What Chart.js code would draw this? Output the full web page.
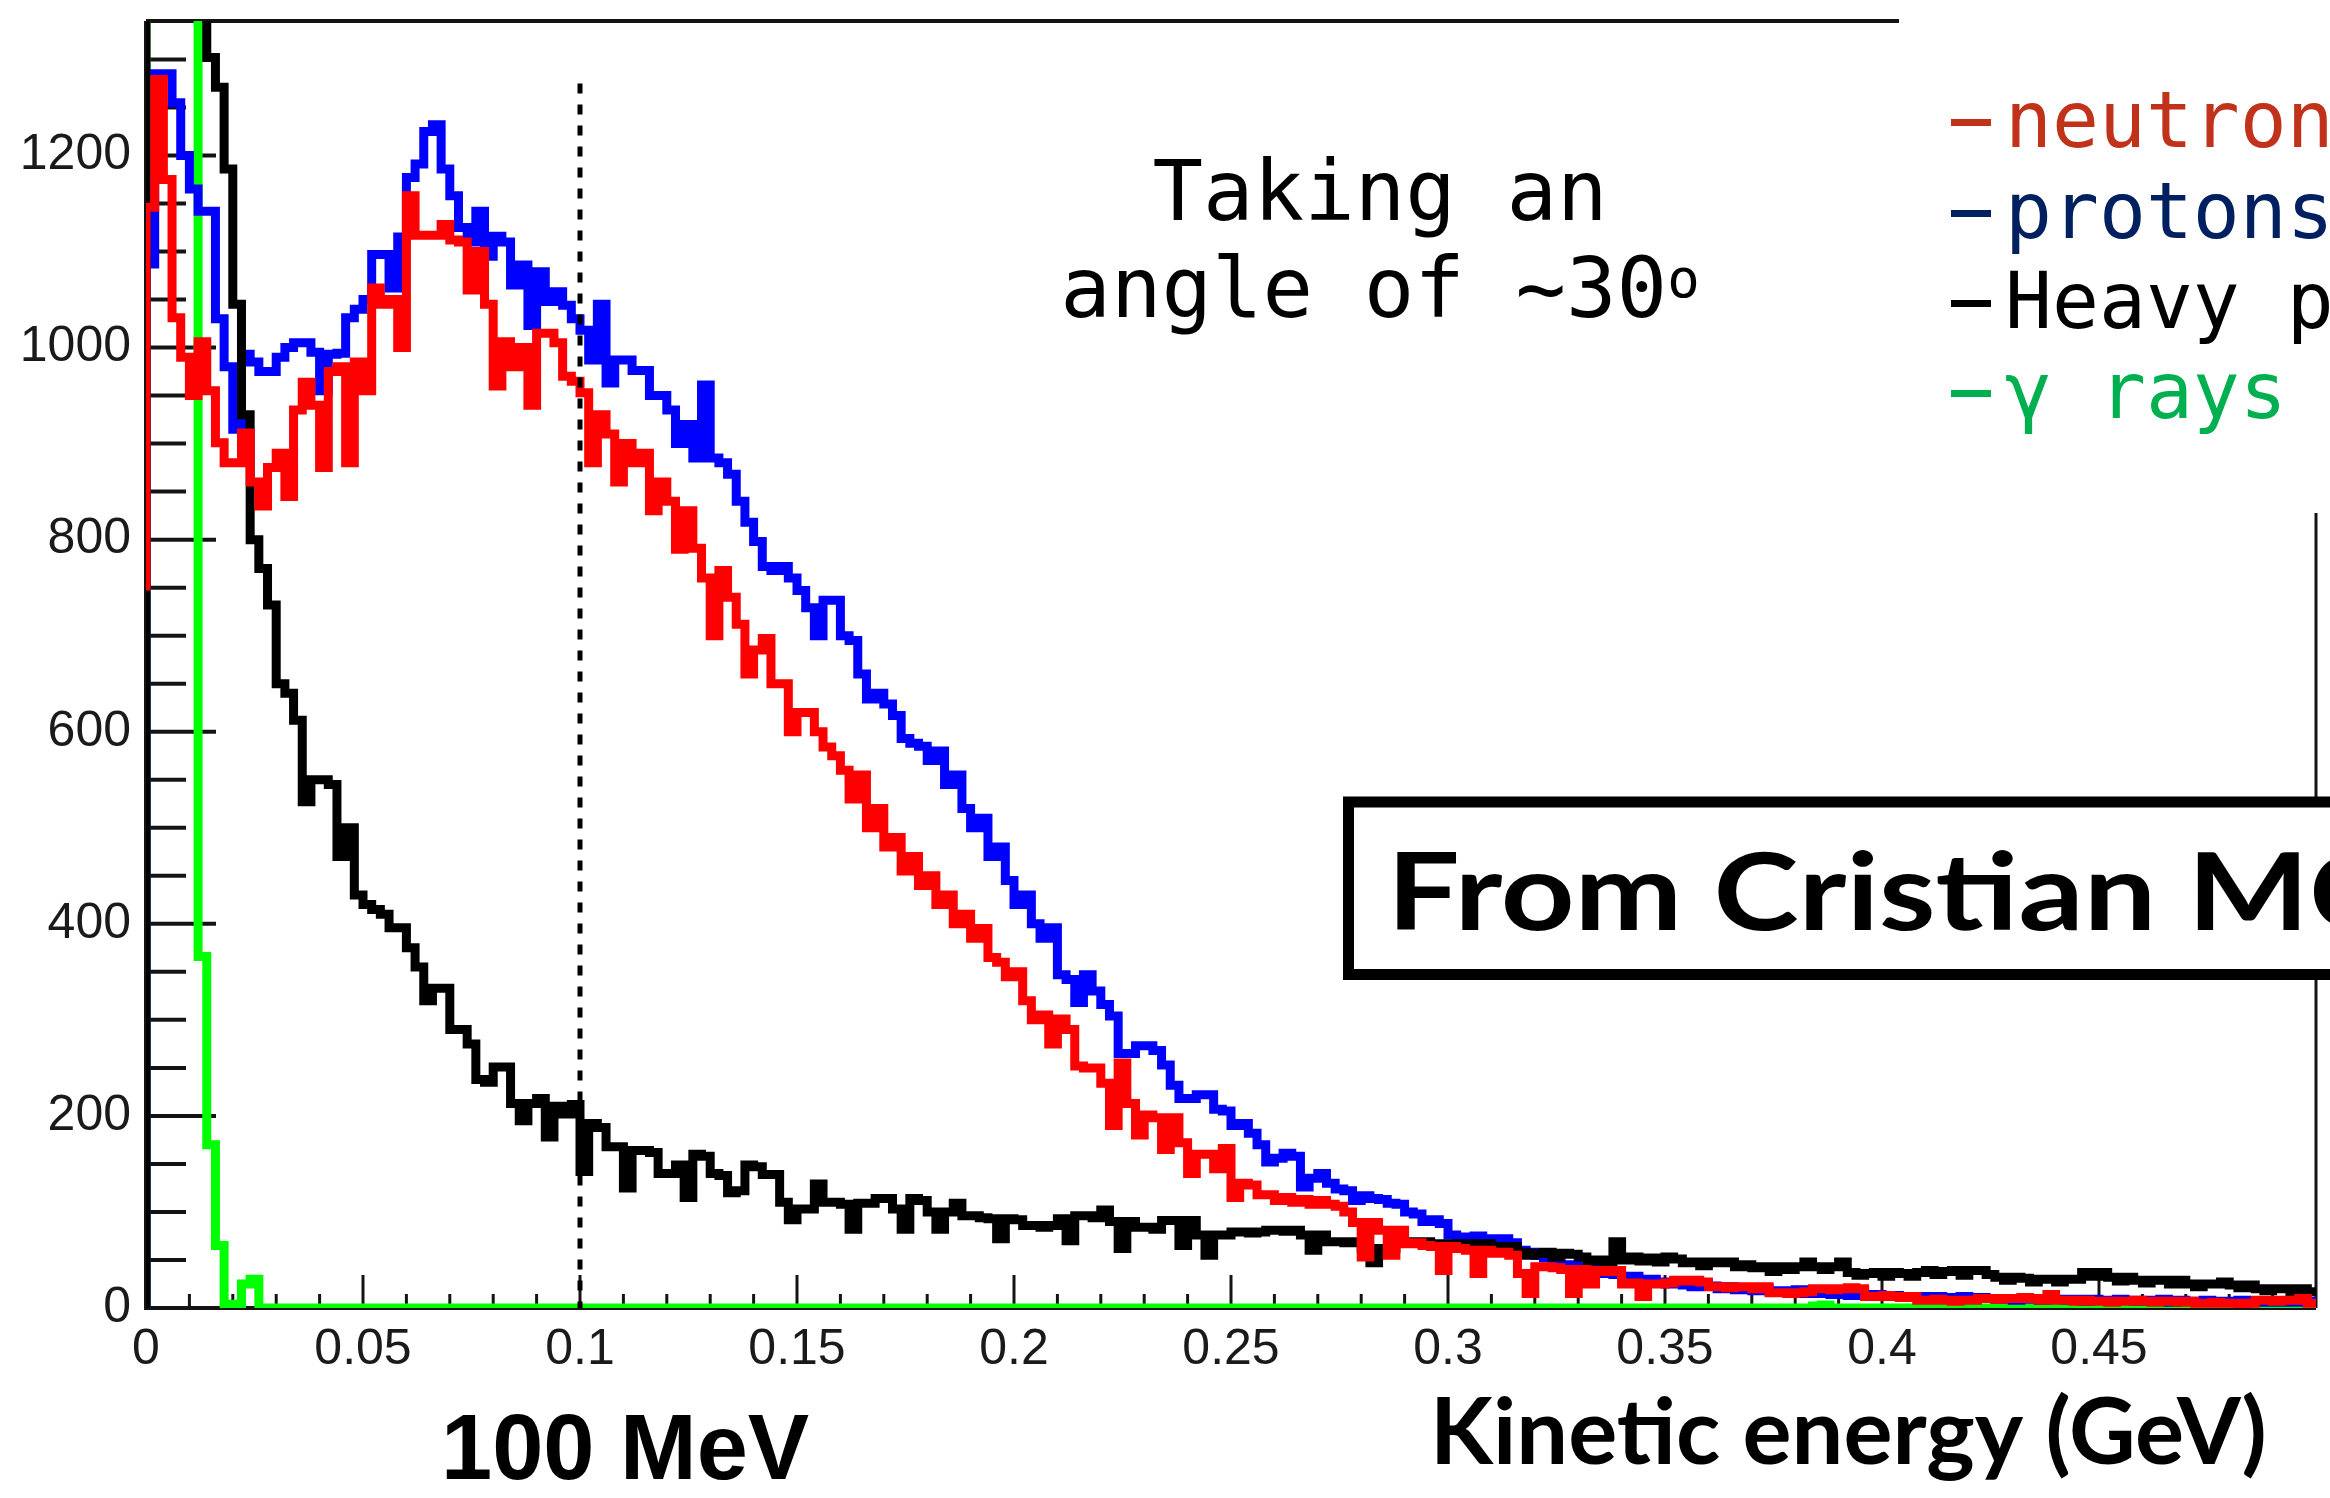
<!DOCTYPE html>
<html><head><meta charset="utf-8">
<script src="https://cdn.jsdelivr.net/npm/chart.js@4.4.1/dist/chart.umd.min.js"></script>
<style>html,body{margin:0;padding:0;background:#fff;overflow:hidden}canvas{display:block}</style>
</head><body>
<canvas id="c" width="2330" height="1498"></canvas>
<script>
// ---------------- data ----------------
const binWidth = 0.002; // GeV, 250 bins from 0 to 0.5
const xTickValues = [0, 0.05, 0.1, 0.15, 0.2, 0.25, 0.3, 0.35, 0.4, 0.45];
const xTickLabels = ['0', '0.05', '0.1', '0.15', '0.2', '0.25', '0.3', '0.35', '0.4', '0.45'];
const yTickValues = [0, 200, 400, 600, 800, 1000, 1200];
const yTickLabels = ['0', '200', '400', '600', '800', '1000', '1200'];
const xMin = 0, xMax = 0.5, yMin = 0, yMax = 1340;
const xMinorStep = 0.01, yMinorStep = 50;
const markerEnergy = 0.1, markerTop = 1275;

const seriesNames = ['neutrons', 'protons', 'Heavy particles', 'gamma rays'];
const startValues = [747, 0, 0, 0];

const neutrons = [
1146,1279,1175,1031,990,950,1006,955,901,880,
880,911,860,835,875,890,845,935,964,940,
875,975,980,880,985,955,1062,1045,1050,1000,
1158,1117,1117,1117,1128,1112,1110,1060,1100,1045,
960,1006,980,1000,940,1015,1015,1005,970,965,
953,880,930,910,860,900,880,890,830,860,
840,790,830,791,760,700,768,740,712,660,
685,697,650,650,600,620,620,600,584,575,
560,530,555,500,520,480,490,455,470,440,
450,420,430,400,410,385,395,365,360,345,
350,320,300,305,275,301,290,252,250,250,
234,190,255,213,180,201,198,165,198,172,
140,160,160,145,166,115,130,128,118,118,
112,115,110,113,108,112,108,106,100,89,
53,89,81,55,81,67,68,65,64,39,
64,62,60,36,60,57,58,55,36,15,
43,43,42,40,15,40,25,39,38,39,
25,26,12,25,25,26,29,28,29,27,
22,22,21,22,22,20,22,16,16,15,
16,17,20,20,19,20,21,20,12,12,
13,12,11,12,8,8,9,8,7,8,
8,10,10,9,10,10,11,10,8,14,
8,8,7,8,7,7,6,7,7,8,
7,6,7,7,6,7,5,5,6,5,
5,4,5,8,8,7,8,8,10,5
];

const protons = [
1087,1285,1285,1255,1200,1165,1142,1142,1030,980,
915,993,985,975,975,990,1000,1005,1005,995,
955,993,994,1031,1040,1050,1097,1097,1062,1115,
1177,1191,1225,1232,1186,1158,1125,1110,1142,1095,
1116,1110,1065,1086,1023,1079,1048,1058,1044,1030,
1018,987,1045,963,987,987,976,976,950,950,
935,900,920,885,961,885,880,868,840,818,
798,772,768,772,760,747,729,700,737,737,
700,695,660,634,640,629,617,593,588,585,
570,580,545,555,520,500,510,470,480,445,
420,430,400,385,396,347,342,318,347,330,
316,304,265,265,273,273,268,253,232,218,
218,222,222,207,205,190,192,182,170,152,
156,161,158,126,135,140,130,124,122,112,
117,114,113,109,108,100,98,90,92,88,
76,74,73,75,72,70,72,68,60,58,
55,52,50,42,45,40,38,40,36,35,
30,33,28,30,27,25,28,24,22,26,
23,20,22,19,21,18,20,17,18,16,
19,15,17,15,14,16,13,15,12,14,
12,13,11,12,12,10,12,11,10,12,
9,11,10,9,10,8,10,9,8,10,
9,8,9,7,9,8,7,9,8,7,
8,7,9,6,8,7,6,8,7,6,
7,8,6,7,6,7,6,8,6,7
];

const heavy = [
3000,3000,3000,3000,3000,3000,3000,1302,1271,1186,
1045,930,800,770,732,650,640,612,527,550,
550,545,470,500,430,420,415,410,396,396,
375,355,320,333,333,290,290,275,238,235,
251,251,213,195,213,218,178,210,202,212,
142,192,188,168,168,125,164,164,162,140,
140,149,115,160,158,140,138,120,122,149,
147,139,139,110,92,103,103,129,110,110,
108,82,109,109,114,114,103,82,114,112,
100,82,100,109,96,96,94,93,72,93,
92,86,86,84,86,93,70,96,96,94,
102,90,62,90,84,84,82,91,91,65,
91,76,55,76,76,79,79,78,79,81,
81,80,81,76,60,76,69,69,68,69,
62,47,62,62,69,69,68,69,67,67,
66,67,67,66,67,64,60,64,58,55,
57,58,53,57,56,53,49,50,46,69,
50,53,49,52,48,53,51,47,48,44,
48,47,48,43,45,42,43,38,43,40,
43,48,43,40,43,48,37,34,36,37,
33,37,36,33,37,39,35,38,39,34,
39,39,35,32,29,32,31,27,30,30,
27,30,30,37,33,37,32,28,32,29,
26,29,29,25,29,25,22,25,25,27,
24,21,24,20,18,20,20,17,20,17
];

const gammas = [
3000,3000,3000,3000,3000,3000,366,170,65,0,
4,25,30,0,0,0,0,0,0,0,
0,0,0,0,0,0,0,0,0,0,
0,0,0,0,0,0,0,0,0,0,
0,0,0,0,0,0,0,0,0,0,
0,0,0,0,0,0,0,0,0,0,
0,0,0,0,0,0,0,0,0,0,
0,0,0,0,0,0,0,0,0,0,
0,0,0,0,0,0,0,0,0,0,
0,0,0,0,0,0,0,0,0,0,
0,0,0,0,0,0,0,0,0,0,
0,0,0,0,0,0,0,0,0,0,
0,0,0,0,0,0,0,0,0,0,
0,0,0,0,0,0,0,0,0,0,
0,0,0,0,0,0,0,0,0,0,
0,0,0,0,0,0,0,0,0,0,
0,0,0,0,0,0,0,0,0,0,
0,0,0,0,0,0,0,0,0,0,
0,0,0,0,0,0,0,0,0,0,
0,0,2,3,0,0,0,0,0,0,
0,0,0,0,0,0,0,0,0,0,
0,0,0,0,0,0,0,0,0,0,
0,0,0,0,0,0,0,0,0,0,
0,0,0,0,0,0,0,0,0,0,
0,0,0,0,0,0,0,0,0,0
];

const legendLabels = ['neutrons', 'protons', 'Heavy particles', '\u03B3 rays'];
const legendColors = ['#C0321A', '#002060', '#000000', '#00B050'];
const noteLine1 = 'Taking an';
const noteLine2 = 'angle of ~30';
const noteSup = 'o';
const sourceText = 'From Cristian MC';
const markerText = '100 MeV';
const xTitle = 'Kinetic energy (GeV)';

// ---------------- build ----------------
function histPoints(values, start) {
  const pts = [{x: 0, y: start}];
  values.forEach((v, i) => pts.push({x: i * binWidth, y: v}));
  pts.push({x: values.length * binWidth, y: values[values.length - 1]});
  return pts;
}
function ds(label, values, start, color) {
  return {label, data: histPoints(values, start), borderColor: color, backgroundColor: color,
    borderWidth: 9, stepped: 'before', pointRadius: 0, fill: false, tension: 0,
    borderJoinStyle: 'miter', borderCapStyle: 'butt'};
}

const decor = {
  id: 'decor',
  beforeDatasetsDraw(chart) {
    const {ctx, chartArea: a, scales: {x, y}} = chart;
    ctx.save();
    ctx.strokeStyle = '#141414';
    ctx.lineWidth = 4;
    ctx.beginPath(); ctx.moveTo(a.left, a.top); ctx.lineTo(a.right, a.top); ctx.stroke();
    ctx.lineWidth = 3;
    ctx.beginPath(); ctx.moveTo(a.right, a.top); ctx.lineTo(a.right, a.bottom); ctx.stroke();
    ctx.lineWidth = 4;
    ctx.beginPath(); ctx.moveTo(a.left, a.top); ctx.lineTo(a.left, a.bottom); ctx.lineTo(a.right, a.bottom); ctx.stroke();
    // y ticks (inward)
    ctx.lineWidth = 4;
    const nY = Math.round((yMax - yMin) / yMinorStep);
    for (let i = 0; i <= nY; i++) {
      const v = yMin + i * yMinorStep;
      if (v > yMax) break;
      const py = y.getPixelForValue(v);
      const major = yTickValues.includes(v);
      ctx.beginPath(); ctx.moveTo(a.left, py); ctx.lineTo(a.left + (major ? 70 : 40), py); ctx.stroke();
    }
    // x ticks (inward)
    ctx.lineWidth = 3;
    const nX = Math.round((xMax - xMin) / xMinorStep);
    for (let i = 0; i < nX; i++) {
      const v = xMin + i * xMinorStep;
      const px = x.getPixelForValue(v);
      const major = i % 5 === 0;
      ctx.beginPath(); ctx.moveTo(px, a.bottom); ctx.lineTo(px, a.bottom - (major ? 33 : 14)); ctx.stroke();
    }
    ctx.restore();
  },
  afterDatasetsDraw(chart) {
    const {ctx, scales: {x, y}} = chart;
    ctx.save();
    ctx.strokeStyle = '#000';
    ctx.lineWidth = 5;
    ctx.setLineDash([10, 11]);
    const px = x.getPixelForValue(markerEnergy);
    ctx.beginPath(); ctx.moveTo(px, y.getPixelForValue(markerTop)); ctx.lineTo(px, y.getPixelForValue(0)); ctx.stroke();
    ctx.restore();
  },
  afterDraw(chart) {
    const {ctx} = chart;
    ctx.save();
    // legend area (white)
    ctx.fillStyle = '#fff';
    ctx.fillRect(1899, 0, 431, 513);
    ctx.textBaseline = 'alphabetic';
    ctx.font = '78px "DejaVu Sans Mono"';
    const legY = [147, 238, 328, 418];
    legendLabels.forEach((t, i) => {
      ctx.fillStyle = legendColors[i];
      ctx.fillRect(1951, legY[i] - 28, 40, 7);
      ctx.fillText(t, 2005, legY[i]);
    });
    // note
    ctx.fillStyle = '#000';
    ctx.font = '84px "DejaVu Sans Mono"';
    ctx.textAlign = 'center';
    ctx.fillText(noteLine1, 1380, 220);
    ctx.textAlign = 'left';
    const w1 = ctx.measureText(noteLine2).width;
    ctx.font = '54px "DejaVu Sans Mono"';
    const w2 = ctx.measureText(noteSup).width;
    const sx = 1380 - (w1 + w2) / 2;
    ctx.font = '84px "DejaVu Sans Mono"';
    ctx.fillText(noteLine2, sx, 317);
    ctx.font = '54px "DejaVu Sans Mono"';
    ctx.fillText(noteSup, sx + w1, 297);
    // source box
    ctx.fillStyle = '#fff';
    ctx.fillRect(1348, 802, 1000, 172);
    ctx.strokeStyle = '#000';
    ctx.lineWidth = 11;
    ctx.strokeRect(1348.5, 802, 1000, 172.5);
    ctx.fillStyle = '#000';
    ctx.font = 'bold 107px Lato';
    const swM = ctx.measureText('From Cristian M').width;
    const kx = 922 / swM;
    ctx.save();
    ctx.translate(1387, 930);
    ctx.scale(kx, 1);
    ctx.fillText(sourceText, 0, 0);
    ctx.restore();
    // 100 MeV
    ctx.font = 'bold 92px "Liberation Sans"';
    ctx.fillText(markerText, 441, 1479);
    // axis title
    ctx.font = 'bold 86px Lato';
    const tw = ctx.measureText(xTitle).width;
    const fs = 86 * 837 / tw;
    ctx.font = 'bold ' + fs.toFixed(1) + 'px Lato';
    ctx.fillText(xTitle, 1430, 1464);
    ctx.restore();
  }
};

new Chart(document.getElementById('c'), {
  type: 'line',
  data: {datasets: [
    ds(seriesNames[0], neutrons, startValues[0], '#ff0000'),
    ds(seriesNames[2], heavy, startValues[2], '#000000'),
    ds(seriesNames[1], protons, startValues[1], '#0000ff'),
    ds(seriesNames[3], gammas, startValues[3], '#00ff00')
  ]},
  options: {
    responsive: false, animation: false, devicePixelRatio: 1,
    layout: {padding: {left: 0, top: 21, right: 14, bottom: 0}},
    plugins: {legend: {display: false}, tooltip: {enabled: false}},
    scales: {
      x: {type: 'linear', min: xMin, max: xMax,
        grid: {display: false, drawTicks: false}, border: {display: false},
        afterBuildTicks: s => { s.ticks = xTickValues.map(v => ({value: v})); },
        afterFit: s => { s.height = 190; s.paddingLeft = 0; s.paddingRight = 0; },
        ticks: {autoSkip: false, maxRotation: 0, padding: 12, color: '#1a1a1a',
          font: {family: 'Liberation Sans', size: 50},
          callback: (v, i) => xTickLabels[i]}},
      y: {type: 'linear', min: yMin, max: yMax,
        grid: {display: false, drawTicks: false}, border: {display: false},
        afterBuildTicks: s => { s.ticks = yTickValues.map(v => ({value: v})); },
        afterFit: s => { s.width = 146; s.paddingTop = 0; s.paddingBottom = 0; },
        ticks: {autoSkip: false, padding: 15, color: '#1a1a1a',
          font: {family: 'Liberation Sans', size: 50},
          callback: (v, i) => yTickLabels[i]}}
    }
  },
  plugins: [decor]
});
</script></body></html>
